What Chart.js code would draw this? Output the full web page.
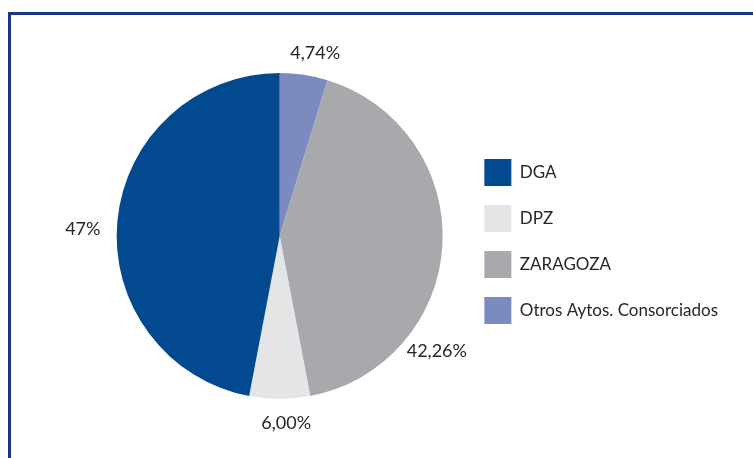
<!DOCTYPE html>
<html>
<head>
<meta charset="utf-8">
<script src="https://cdn.jsdelivr.net/npm/chart.js@4.4.1/dist/chart.umd.min.js"></script>
<style>
  html, body { margin: 0; padding: 0; background: #fff; }
  #wrap { position: relative; width: 753px; height: 458px; overflow: hidden; }
  #frame {
    position: absolute; left: 8px; top: 12px; width: 800px; height: 500px;
    border-left: 3px solid #173584; border-top: 3px solid #173584;
  }
  #c { position: absolute; left: 0; top: 0; }
</style>
</head>
<body>
<div id="wrap">
  <div id="frame"></div>
  <canvas id="c" width="753" height="458"></canvas>
</div>
<script>
// ==================== DATA ====================
// order clockwise from 12 o'clock
const categories = ['Otros Aytos. Consorciados', 'ZARAGOZA', 'DPZ', 'DGA'];
const shares = [4.74, 42.26, 6.00, 47.00];
const shareLabels = ['4,74%', '42,26%', '6,00%', '47%'];
const sliceColors = ['#7b8bc0', '#a8a9ac', '#e4e5e7', '#03498f'];

// Label placement: angle (deg, clockwise from top) and distance beyond the pie edge
const labelAngles = [11, 126.3, 178, 272];
const labelExtra = [23, 32, 24, 34];

const FONT = 'Lato, "Open Sans", sans-serif';
const TEXT = '#262626';

// Draw the percentage labels around the pie
const outsideLabels = {
    id: 'outsideLabels',
    afterDatasetsDraw(chart) {
        const meta = chart.getDatasetMeta(0);
        if (!meta.data.length) return;
        const arc = meta.data[0];
        const ctx = chart.ctx;
        ctx.save();
        ctx.font = '18px ' + FONT;
        ctx.fillStyle = TEXT;
        ctx.textAlign = 'center';
        ctx.textBaseline = 'middle';
        shareLabels.forEach((txt, i) => {
            const a = labelAngles[i] * Math.PI / 180;
            const d = arc.outerRadius + labelExtra[i];
            ctx.fillText(txt, arc.x + d * Math.sin(a), arc.y - d * Math.cos(a));
        });
        ctx.restore();
    }
};

new Chart(document.getElementById('c'), {
    type: 'pie',
    data: {
        labels: categories,
        datasets: [{
            data: shares,
            backgroundColor: sliceColors,
            borderWidth: 0
        }]
    },
    options: {
        responsive: false,
        animation: false,
        layout: { padding: { left: 94, right: 25, top: 73, bottom: 59 } },
        plugins: {
            tooltip: { enabled: false },
            legend: {
                position: 'right',
                reverse: true,
                title: { display: true, text: '', font: { size: 1 }, padding: { top: 10, bottom: 0 } },
                labels: {
                    boxWidth: 27,
                    boxHeight: 27,
                    padding: 19,
                    color: TEXT,
                    font: { family: FONT, size: 17 }
                }
            }
        }
    },
    plugins: [outsideLabels]
});
</script>
</body>
</html>
